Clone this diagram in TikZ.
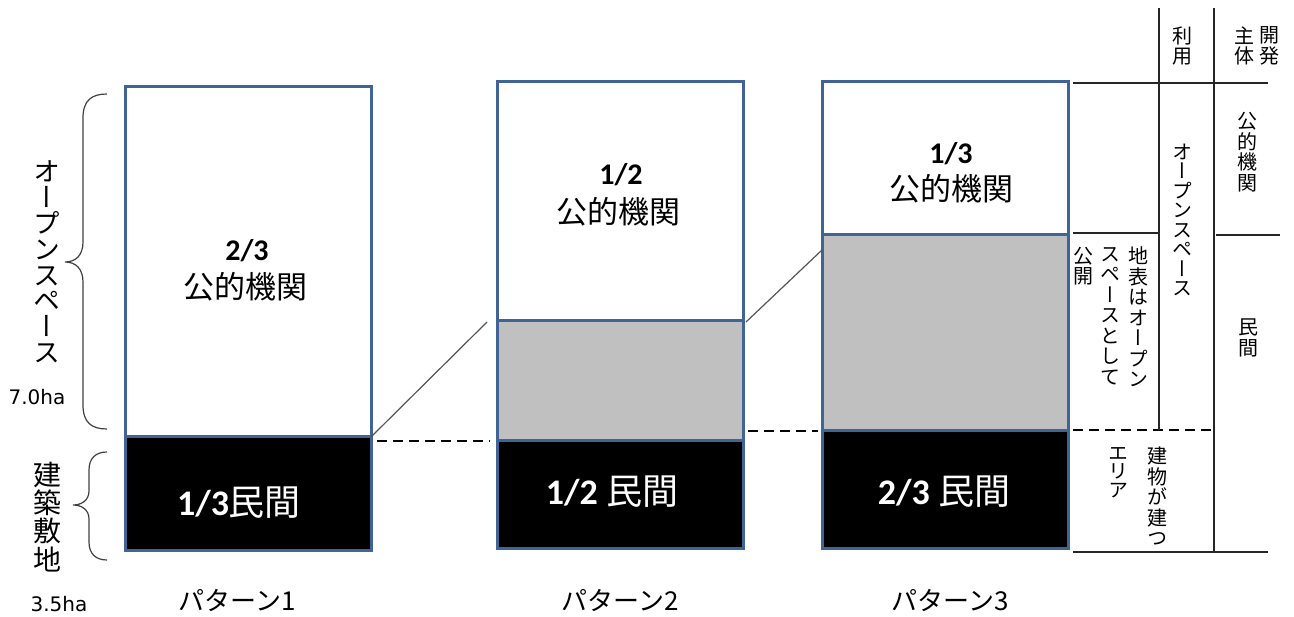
\documentclass[tikz,border=0pt]{standalone}
\usepackage{fontspec}
\setmainfont{Noto Sans CJK JP}
\newfontfamily\jp{Noto Sans CJK JP}
\newfontfamily\jpv[RawFeature={+vert}]{Noto Sans CJK JP}
\newfontfamily\num{Carlito}
\newfontfamily\dv{DejaVu Sans}
\definecolor{boxblue}{HTML}{3F6495}
\definecolor{fillgray}{HTML}{C0C0C0}
\definecolor{connline}{HTML}{555555}
\begin{document}
\begin{tikzpicture}[x=1pt,y=-1pt,
  box/.style={rectangle,draw=boxblue,line width=3pt,inner sep=0pt,outer sep=0pt,anchor=north west,minimum width=246pt},
  wbox/.style={box,fill=white},
  gbox/.style={box,fill=fillgray},
  kbox/.style={box,fill=black},
  frac/.style={inner sep=0pt,font=\num\bfseries\fontsize{30}{30}\selectfont},
  org/.style={inner sep=0pt,font=\jp\fontsize{31}{31}\selectfont},
  priv/.style={inner sep=0pt,text=white,font=\fontsize{36}{36}\selectfont},
  patt/.style={inner sep=0pt,font=\jp\fontsize{26}{26}\selectfont},
  vtext/.style={inner sep=0pt,align=center},
  vsmall/.style={vtext,font=\jpv\fontsize{20}{20.5}\selectfont},
  conn/.style={draw=connline,line width=1.2pt},
  dashedline/.style={draw=black,line width=1.3pt,dash pattern=on 10pt off 6pt},
  tline/.style={draw=black!85,line width=1.4pt},
  bracepath/.style={draw=black!75,line width=1.2pt},
  ha/.style={inner sep=0pt,font=\dv\fontsize{20}{20}\selectfont}
]
\useasboundingbox (0,0) rectangle (1294,617);

% pattern 1
\node[wbox,minimum height=350pt] (b1w) at (125,87) {};
\node[kbox,minimum height=113pt] (b1k) at (125,437) {};
% pattern 2
\node[wbox,minimum height=239pt] (b2w) at (497,82) {};
\node[gbox,minimum height=120pt] (b2g) at (497,321) {};
\node[kbox,minimum height=107pt] (b2k) at (497,441) {};
% pattern 3
\node[wbox,minimum height=153pt] (b3w) at (822,82) {};
\node[gbox,minimum height=196pt] (b3g) at (822,235) {};
\node[kbox,minimum height=117pt] (b3k) at (822,431) {};

% box texts
\node[frac] (f1) at (247,251) {2/3};
\node[org] (o1) at (245,287) {公的機関};
\node[frac] (f2) at (621,175) {1/2};
\node[org] (o2) at (618,212) {公的機関};
\node[frac] (f3) at (951,154) {1/3};
\node[org] (o3) at (951,189) {公的機関};

\node[priv] (p1) at (239,503) {{\num\bfseries 1/3}{\jp 民間}};
\node[priv] (p2) at (612,492) {{\num\bfseries 1/2} {\jp 民間}};
\node[priv] (p3) at (944,492) {{\num\bfseries 2/3} {\jp 民間}};

% pattern labels
\node[patt] (l1) at (237,600) {パターン1};
\node[patt] (l2) at (620,600) {パターン2};
\node[patt] (l3) at (950,600) {パターン3};

% connectors
\coordinate (c1e) at (487,322);
\coordinate (c2s) at (746,322);
\coordinate (c2e) at (822,250);
\draw[conn] (b1k.north east) -- (c1e);
\draw[conn] (c2s) -- (c2e);

\coordinate (d1s) at (377,441);
\coordinate (d1e) at (490,441);
\coordinate (d2s) at (748,431);
\coordinate (d2e) at (818,431);
\coordinate (d3s) at (1073,430);
\coordinate (d3e) at (1212,430);
\draw[dashedline] (d1s) -- (d1e);
\draw[dashedline] (d2s) -- (d2e);
\draw[dashedline] (d3s) -- (d3e);

% left braces
\draw[bracepath] (107,94) .. controls (92,94) and (83,100) .. (83,118) -- (83,242)
  .. controls (83,255) and (76,262) .. (65,262)
  .. controls (76,262) and (83,269) .. (83,282) -- (83,405)
  .. controls (83,423) and (92,429) .. (107,429);
\draw[bracepath] (107,452) .. controls (96,452) and (89,458) .. (89,470) -- (89,491)
  .. controls (89,500) and (82,505) .. (73,505)
  .. controls (82,505) and (89,510) .. (89,519) -- (89,542)
  .. controls (89,554) and (96,560) .. (107,560);

\node[vtext,font=\jpv\fontsize{27}{25.8}\selectfont] (os) at (47,262) {オ\\ー\\プ\\ン\\ス\\ペ\\ー\\ス};
\node[ha] (ha1) at (37,397) {7.0ha};
\node[vtext,font=\jpv\fontsize{28}{28.2}\selectfont] (ks) at (47,517) {建\\築\\敷\\地};
\node[ha] (ha2) at (59,604) {3.5ha};

% right table
\draw[tline] (1159,8) -- (1159,430);
\draw[tline] (1214,8) -- (1214,552);
\draw[tline] (1073,83) -- (1268,83);
\draw[tline] (1073,233) -- (1159,233);
\draw[tline] (1216,235) -- (1280,235);
\draw[tline] (1073,552) -- (1268,552);

\node[vsmall] (h1) at (1182,46) {利\\用};
\node[vsmall] (h2) at (1269,46) {開\\発};
\node[vsmall] (h3) at (1244,46) {主\\体};
\node[vsmall] (r1) at (1247,152) {公\\的\\機\\関};
\node[vsmall] (r2) at (1248,338) {民\\間};
\node[vtext,font=\jpv\fontsize{20}{19.5}\selectfont] (u1) at (1182,220) {オ\\ー\\プ\\ン\\ス\\ペ\\ー\\ス};
\node[vsmall,anchor=north] (u2) at (1138,247) {地\\表\\は\\オ\\ー\\プ\\ン};
\node[vsmall,anchor=north] (u3) at (1110,247) {ス\\ペ\\ー\\ス\\と\\し\\て};
\node[vsmall,anchor=north] (u4) at (1083,247) {公\\開};
\node[vsmall,anchor=north] (u5) at (1157,447) {建\\物\\が\\建\\つ};
\node[vtext,anchor=north,font=\jpv\fontsize{20}{18.5}\selectfont] (u6) at (1118,447) {エ\\リ\\ア};
\end{tikzpicture}
\end{document}
